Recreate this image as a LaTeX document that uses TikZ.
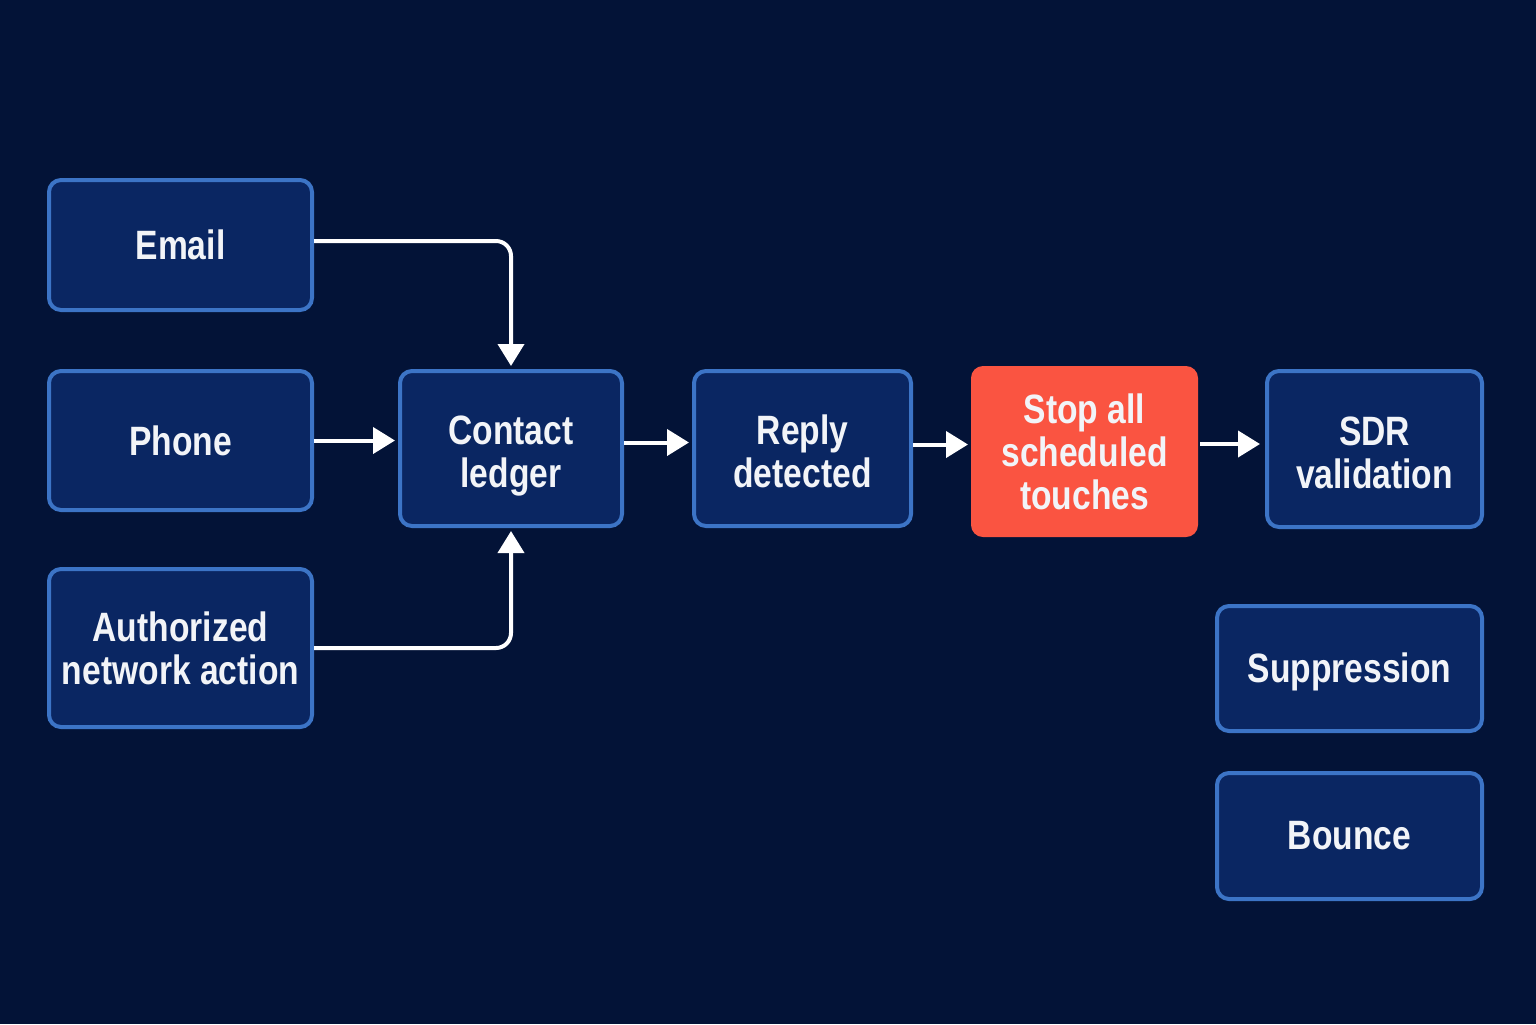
\documentclass[tikz,border=0pt]{standalone}
\usepackage{fontspec}
\setmainfont{Liberation Sans}[FakeStretch=0.82]
\usetikzlibrary{arrows.meta}
\definecolor{bg}{HTML}{031337}
\definecolor{boxfill}{HTML}{0A2662}
\definecolor{boxline}{HTML}{3C74C6}
\definecolor{stopred}{HTML}{FA5441}
\definecolor{txt}{HTML}{F2F4F8}
\tikzset{
  flowbox/.style={rectangle, rounded corners=6pt, draw=boxline, line width=2pt, fill=boxfill,
    text=txt, align=center, inner sep=0pt,
    font=\fontsize{20.5}{21.5}\selectfont\bfseries},
  redbox/.style={flowbox, draw=none, fill=stopred},
  flowarrow/.style={draw=white, line width=2pt, -{Triangle[width=13pt,length=11pt]}},
}
\begin{document}
\begin{tikzpicture}[x=0.5pt,y=-0.5pt]
\useasboundingbox (0,0) rectangle (1536,1024);
\fill[bg] (0,0) rectangle (1536,1024);

\node[flowbox, minimum width=131.5pt, minimum height=65pt] (email) at (180.5,245) {Email};
\node[flowbox, minimum width=131.5pt, minimum height=69.5pt] (phone) at (180.5,440.5) {Phone};
\node[flowbox, minimum width=131.5pt, minimum height=79pt] (auth) at (180.5,648) {Authorized\\network action};
\node[flowbox, minimum width=111pt, minimum height=77.5pt] (ledger) at (511,448.5) {\rule{0pt}{21.5pt}Contact\\ledger};
\node[flowbox, minimum width=108.5pt, minimum height=77.5pt] (reply) at (802.5,448.5) {\rule{0pt}{17.5pt}Reply\\detected};
\node[redbox, minimum width=113.5pt, minimum height=85.5pt] (stop) at (1084.5,451.5) {Stop all\\scheduled\\touches};
\node[flowbox, minimum width=107.5pt, minimum height=78pt] (sdr) at (1374.5,449) {\rule{0pt}{18pt}SDR\\validation};
\node[flowbox, minimum width=132.5pt, minimum height=62.5pt] (supp) at (1349.5,668.5) {\rule{0pt}{18.5pt}Suppression};
\node[flowbox, minimum width=132.5pt, minimum height=63pt] (bounce) at (1349.5,836) {Bounce};

\draw[flowarrow, rounded corners=7.5pt, shorten >=1.5pt] ([yshift=2pt]email.east) -| (ledger.north);
\draw[flowarrow, rounded corners=7.5pt, shorten >=1.5pt] (auth.east) -| (ledger.south);
\draw[flowarrow, shorten >=1.5pt] (phone.east) -- (phone.east -| ledger.west);
\draw[flowarrow, shorten >=1.5pt] ([yshift=3pt]ledger.east) -- ([yshift=3pt]reply.west);
\draw[flowarrow, shorten >=0.5pt] ([yshift=2pt]reply.east) -- ([yshift=2pt]reply.east -| stop.west);
\draw[flowarrow, shorten >=2.5pt] ([yshift=3.75pt]stop.east) -- ([yshift=3.75pt]stop.east -| sdr.west);
\end{tikzpicture}
\end{document}
